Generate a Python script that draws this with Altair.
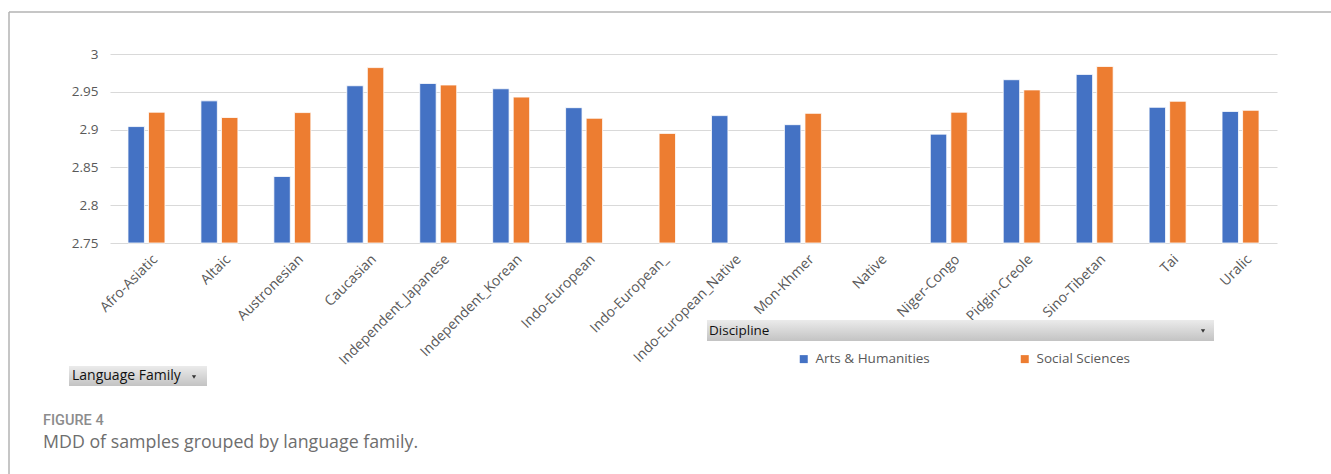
import altair as alt
import pandas as pd

# Mean dependency distance by language family, split by discipline
families = [
    "Afro-Asiatic", "Altaic", "Austronesian", "Caucasian", "Independent_Japanese",
    "Independent_Korean", "Indo-European", "Indo-European_", "Indo-European_Native",
    "Mon-Khmer", "Native", "Niger-Congo", "Pidgin-Creole", "Sino-Tibetan", "Tai", "Uralic",
]
arts_humanities = [2.904, 2.938, 2.838, 2.958, 2.961, 2.954, 2.929, None, 2.9185,
                   2.9065, None, 2.894, 2.966, 2.973, 2.9295, 2.924]
social_sciences = [2.923, 2.916, 2.9225, 2.982, 2.959, 2.943, 2.915, 2.895, None,
                   2.9215, None, 2.923, 2.9525, 2.9835, 2.9375, 2.9255]
disciplines = ["Arts & Humanities", "Social Sciences"]
colors = ["#4472C4", "#ED7D31"]
y_ticks = [2.75, 2.8, 2.85, 2.9, 2.95, 3.0]

rows = []
for fam, a, s in zip(families, arts_humanities, social_sciences):
    rows.append({"family": fam, "discipline": disciplines[0], "mdd": a})
    rows.append({"family": fam, "discipline": disciplines[1], "mdd": s})
df = pd.DataFrame(rows)

FONT = "Open Sans"
GRAY = "#595959"

bars = alt.Chart(df).mark_bar(stroke="white", strokeWidth=0.8).encode(
    x=alt.X("family:N", sort=families, title=None,
            scale=alt.Scale(paddingInner=0.493, paddingOuter=0.2465),
            axis=alt.Axis(labelAngle=-45, labelFontSize=14, labelColor=GRAY,
                          labelFont=FONT, domain=False, ticks=False, labelPadding=9,
                          labelOffset=4, labelLimit=300)),
    xOffset=alt.XOffset("discipline:N", sort=disciplines,
                        scale=alt.Scale(paddingInner=0.2, paddingOuter=0)),
    y=alt.Y("mdd:Q", title=None,
            scale=alt.Scale(domain=[2.75, 3.0], nice=False, zero=False),
            axis=alt.Axis(values=y_ticks, format="~g", labelFontSize=13.5,
                          labelColor=GRAY, labelFont=FONT, domain=False, ticks=False,
                          labelPadding=12, gridColor="#d9d9d9", gridWidth=1.2)),
    y2=alt.datum(2.75),
    color=alt.Color("discipline:N", sort=disciplines,
                    scale=alt.Scale(domain=disciplines, range=colors),
                    legend=alt.Legend(orient="none", legendX=687, legendY=298,
                                      direction="horizontal", columns=2, title=None,
                                      symbolType="square", symbolSize=64,
                                      symbolStrokeWidth=0, labelFontSize=13.5,
                                      labelFont=FONT, labelColor=GRAY, labelOffset=5,
                                      columnPadding=88, padding=0)),
)

one = pd.DataFrame({"k": [0]})

# Outer frame of the figure panel
frame_top = alt.Chart(one).mark_rule(color="#b3b3b3", strokeWidth=1.5).encode(
    x=alt.value(-101), x2=alt.value(1225), y=alt.value(-42))
frame_left = alt.Chart(one).mark_rule(color="#b3b3b3", strokeWidth=1.5).encode(
    x=alt.value(-101), y=alt.value(-42), y2=alt.value(420))

grad = alt.Gradient(
    gradient="linear", x1=0, x2=0, y1=0, y2=1,
    stops=[alt.GradientStop(color="#ebebeb", offset=0),
           alt.GradientStop(color="#c3c3c3", offset=1)],
)

# Pivot field buttons
disc_box = alt.Chart(one).mark_rect(fill=grad).encode(
    x=alt.value(597), x2=alt.value(1104), y=alt.value(266), y2=alt.value(287))
disc_text = alt.Chart(one).mark_text(align="left", baseline="middle", fontSize=13.5,
                                     font=FONT, color="#111111").encode(
    x=alt.value(599), y=alt.value(276.5), text=alt.value("Discipline"))
disc_arrow = alt.Chart(one).mark_point(shape="triangle-down", filled=True, size=18,
                                       color="#333333", opacity=1).encode(
    x=alt.value(1093), y=alt.value(277))

lang_box = alt.Chart(one).mark_rect(fill=grad).encode(
    x=alt.value(-41), x2=alt.value(97), y=alt.value(312), y2=alt.value(332))
lang_text = alt.Chart(one).mark_text(align="left", baseline="middle", fontSize=14,
                                     font=FONT, color="#111111").encode(
    x=alt.value(-38), y=alt.value(322), text=alt.value("Language Family"))
lang_arrow = alt.Chart(one).mark_point(shape="triangle-down", filled=True, size=18,
                                       color="#333333", opacity=1).encode(
    x=alt.value(84), y=alt.value(323))

# Figure caption
fig_label = alt.Chart(one).mark_text(align="left", baseline="alphabetic", fontSize=14.5,
                                     font="Roboto", fontWeight=500,
                                     color="#8c8c8c").encode(
    x=alt.value(-67), y=alt.value(371), text=alt.value("FIGURE 4"))
caption = alt.Chart(one).mark_text(align="left", baseline="alphabetic", fontSize=17.8,
                                   font=FONT, color="#6e6e6e").encode(
    x=alt.value(-67), y=alt.value(394),
    text=alt.value("MDD of samples grouped by language family."))

chart = alt.layer(
    bars, frame_top, frame_left, disc_box, disc_text, disc_arrow,
    lang_box, lang_text, lang_arrow, fig_label, caption,
).properties(
    width=1167, height=189,
    padding={"left": 110, "top": 54, "right": 54, "bottom": 231},
    autosize=alt.AutoSizeParams(type="none"),
    background="white",
).configure_view(stroke=None)

chart.save("out.html", embed_options={"renderer": "svg", "actions": False})
